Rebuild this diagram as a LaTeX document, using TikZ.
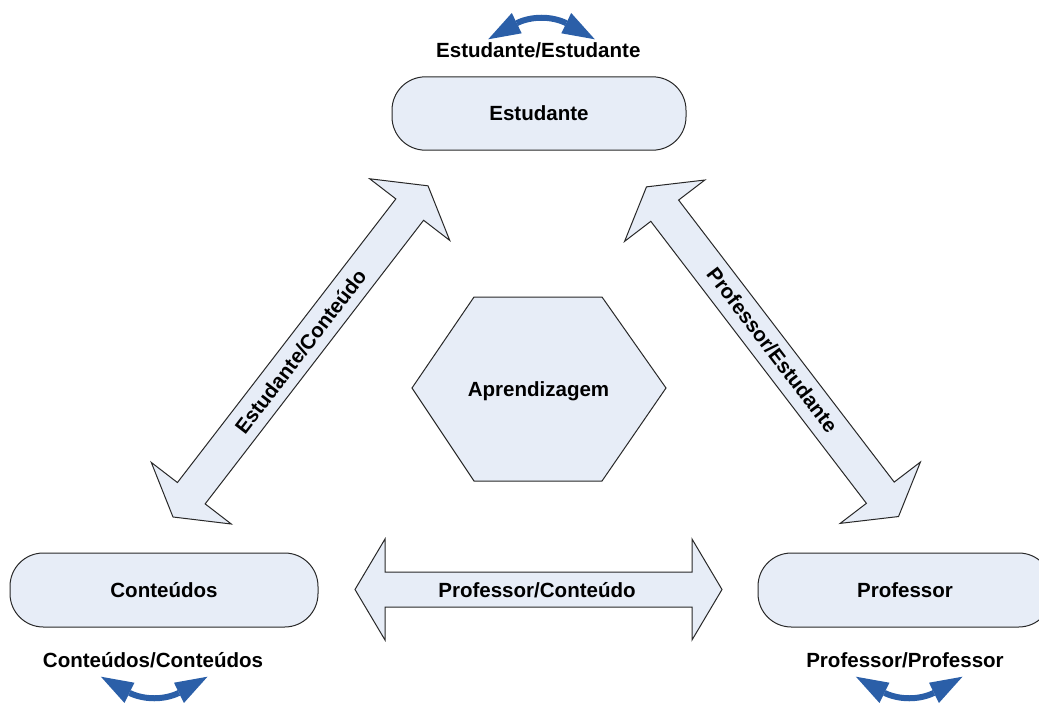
\documentclass[tikz,border=0pt]{standalone}
\usepackage{fontspec}
\setmainfont{Liberation Sans}
\definecolor{panel}{RGB}{231,237,247}
\definecolor{edge}{RGB}{40,40,40}
\definecolor{swapblue}{RGB}{43,95,168}
\begin{document}
\begin{tikzpicture}[x=0.75pt,y=-0.75pt,
  every node/.style={font=\fontsize{15.4pt}{18pt}\selectfont\bfseries,
    text height=11pt, text depth=0pt, inner sep=0pt},
  shapeline/.style={draw=edge, fill=panel, line width=0.75pt, line join=miter},
  rbox/.style={shapeline, rounded corners=25pt, minimum height=55.5pt},
  % light block arrow with a head at each end, #1 = tip-to-tip length
  pics/blockarrow/.style={code={
    \pgfmathsetmacro\baL{#1/2}
    \pgfmathsetmacro\baH{#1/2-30}
    \path[shapeline] (-\baL,0) -- (-\baH,-50.5) -- (-\baH,-17.5) -- (\baH,-17.5)
      -- (\baH,-50.5) -- (\baL,0) -- (\baH,50.5) -- (\baH,17.5)
      -- (-\baH,17.5) -- (-\baH,50.5) -- cycle;
  }},
  % small blue curved two-way arrow
  pics/swaparrow/.style={code={
    \fill[swapblue] (-53.3,39.3) -- (-29.7,13) -- (-19.8,33.3) -- cycle;
    \fill[swapblue] (53.3,39.3) -- (29.7,13) -- (19.8,33.3) -- cycle;
    \draw[swapblue, line width=4.5pt] (-24.75,23.15)
      .. controls (-10.05,15.95) and (10.05,15.95) .. (24.75,23.15);
  }}]
\useasboundingbox (0,0) rectangle (1039,703);

% relation arrows
\pic[rotate=52.4] at (300.5,351.4) {blockarrow=418};
\pic[rotate=-52.6] at (772.5,351.7) {blockarrow=415};
\pic at (538.5,589.5) {blockarrow=367};
\node[rotate=52.4] (ec) at (300.5,351.4) {Estudante/Conteúdo};
\node[rotate=-52.6] (pe) at (772.5,350) {Professor/Estudante};
\node (pc) at (537,590.5) {Professor/Conteúdo};

% central hexagon
\path[shapeline] (474,297) -- (602,297) -- (666,388) -- (602,481) -- (474,481) -- (412,388) -- cycle;
\node (apr) at (538.5,389) {Aprendizagem};

% actors
\node[rbox, minimum width=220.5pt, minimum height=55pt] (est) at (539,113.5) {Estudante};
\node[rbox, minimum width=231pt] (cont) at (164,590) {Conteúdos};
\node[rbox, minimum width=220.5pt] (prof) at (905,590) {Professor};

% same-role interactions
\node (estest) at (538.3,50.5) {Estudante/Estudante};
\node (contcont) at (153,660.5) {Conteúdos/Conteúdos};
\node (profprof) at (905,660.5) {Professor/Professor};
\pic at (541.5,0) {swaparrow};
\pic[yscale=-1] at (154.2,716) {swaparrow};
\pic[yscale=-1] at (909.2,716) {swaparrow};
\end{tikzpicture}
\end{document}
